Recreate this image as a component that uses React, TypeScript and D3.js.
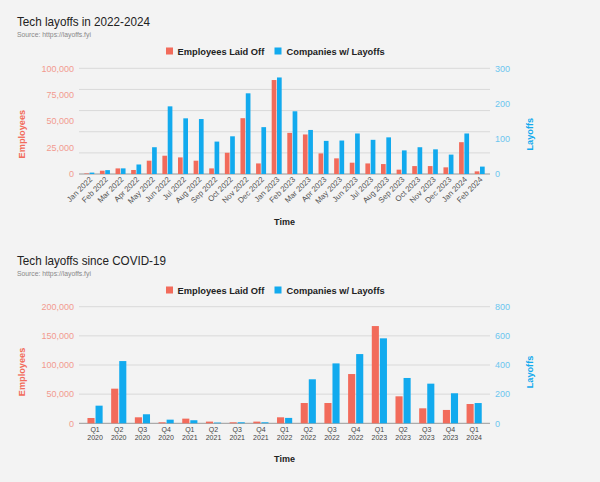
import React from "react";
import * as d3 from "d3";

const months = ["Jan 2022","Feb 2022","Mar 2022","Apr 2022","May 2022","Jun 2022","Jul 2022","Aug 2022","Sep 2022","Oct 2022","Nov 2022","Dec 2022","Jan 2023","Feb 2023","Mar 2023","Apr 2023","May 2023","Jun 2023","Jul 2023","Aug 2023","Sep 2023","Oct 2023","Nov 2023","Dec 2023","Jan 2024","Feb 2024"];
const monthEmployees = [500,3100,5300,3800,12600,17300,15700,12600,5300,20100,52800,10000,88900,38900,37400,19500,14800,10700,10000,9400,4100,7500,7500,6300,30100,2500];
const monthCompanies = [4,11,16,27,76,192,158,156,92,107,229,133,274,178,125,94,95,115,97,104,67,76,70,55,115,21];

const quarters = ["Q1 2020","Q2 2020","Q3 2020","Q4 2020","Q1 2021","Q2 2021","Q3 2021","Q4 2021","Q1 2022","Q2 2022","Q3 2022","Q4 2022","Q1 2023","Q2 2023","Q3 2023","Q4 2023","Q1 2024"];
const quarterEmployees = [9100,59400,10300,1700,8000,2900,1700,2900,10300,34800,34800,84500,166800,46300,25700,22900,33100];
const quarterCompanies = [121,427,62,25,21,5,7,7,37,302,411,475,583,311,272,206,139];

const topLeftTicks = [0,25000,50000,75000,100000];
const topRightTicks = [0,100,200,300];
const botLeftTicks = [0,50000,100000,150000,200000];
const botRightTicks = [0,200,400,600,800];

const RED = "#f26b5b";
const BLUE = "#12aaee";
const FONT = "Arial, 'Liberation Sans', sans-serif";
const fmt = d3.format(",");

type ChartProps = {
  oy: number;
  title: string;
  titleLen: number;
  cats: string[];
  emp: number[];
  comp: number[];
  leftTicks: number[];
  rightTicks: number[];
  plotTop: number;
  plotBottom: number;
  xr: [number, number];
  quarterly: boolean;
};

function Chart(p: ChartProps) {
  const { oy } = p;
  const yL = d3.scaleLinear().domain([0, p.leftTicks[p.leftTicks.length - 1]]).range([p.plotBottom, p.plotTop]);
  const yR = d3.scaleLinear().domain([0, p.rightTicks[p.rightTicks.length - 1]]).range([p.plotBottom, p.plotTop]);
  const x = d3.scaleBand().domain(p.cats).range(p.xr).paddingInner(0.36).paddingOuter(0.18);
  const sub = d3.scaleBand().domain(["e", "c"]).range([0, x.bandwidth()]).paddingInner(0.12);
  const gridTicks = yL.ticks(4);
  const midY = (p.plotTop + p.plotBottom) / 2 + (p.quarterly ? 7 : 13);
  return (
    <g transform={`translate(0,${oy})`}>
      <text x={17} y={26} fontSize={13} textLength={p.titleLen} lengthAdjust="spacingAndGlyphs" fill="#222" fontFamily={FONT}>{p.title}</text>
      <text x={17} y={37} fontSize={6.8} fill="#888" fontFamily={FONT}>Source: https://layoffs.fyi</text>
      <rect x={166} y={47.5} width={7} height={7} fill={RED} />
      <text x={177.5} y={54.5} fontSize={9.3} fontWeight="bold" fill="#222" fontFamily={FONT}>Employees Laid Off</text>
      <rect x={274.5} y={47.5} width={7} height={7} fill={BLUE} />
      <text x={286.5} y={54.5} fontSize={9.3} fontWeight="bold" fill="#222" fontFamily={FONT}>Companies w/ Layoffs</text>
      {gridTicks.map((t) => (
        <line key={t} x1={79} x2={490} y1={yL(t)} y2={yL(t)} stroke={t === 0 ? "#999" : "#d9d9d9"} strokeWidth={1} />
      ))}
      {p.leftTicks.map((t) => (
        <text key={"l" + t} x={74} y={yL(t) + 3.2} textAnchor="end" fontSize={9} fill="#f29a8f" fontFamily={FONT}>{fmt(t)}</text>
      ))}
      {p.rightTicks.map((t) => (
        <text key={"r" + t} x={495} y={yR(t) + 3.2} fontSize={9} fill="#6cc6ef" fontFamily={FONT}>{t}</text>
      ))}
      {p.cats.map((c, i) => (
        <g key={c} transform={`translate(${x(c)},0)`}>
          <rect x={sub("e")} width={sub.bandwidth()} y={yL(p.emp[i])} height={p.plotBottom - yL(p.emp[i])} fill={RED} />
          <rect x={sub("c")} width={sub.bandwidth()} y={yR(p.comp[i])} height={p.plotBottom - yR(p.comp[i])} fill={BLUE} />
        </g>
      ))}
      {p.cats.map((c) => {
        const cx = (x(c) as number) + x.bandwidth() / 2;
        if (p.quarterly) {
          const [q, yr] = c.split(" ");
          return (
            <g key={"t" + c}>
              <text x={cx} y={p.plotBottom + 9} textAnchor="middle" fontSize={7} fill="#444" fontFamily={FONT}>{q}</text>
              <text x={cx} y={p.plotBottom + 17} textAnchor="middle" fontSize={7} fill="#444" fontFamily={FONT}>{yr}</text>
            </g>
          );
        }
        return (
          <text key={"t" + c} transform={`translate(${cx + 3.5},${p.plotBottom + 6}) rotate(-45)`} textAnchor="end" fontSize={7.8} fill="#555" fontFamily={FONT}>{c}</text>
        );
      })}
      <text x={284.5} y={p.quarterly ? p.plotBottom + 39 : p.plotBottom + 51} textAnchor="middle" fontSize={9} fontWeight="bold" fill="#222" fontFamily={FONT}>Time</text>
      <text transform={`translate(25,${midY}) rotate(-90)`} textAnchor="middle" fontSize={9.2} fontWeight="bold" fill={RED} fontFamily={FONT}>Employees</text>
      <text transform={`translate(533,${midY}) rotate(-90)`} textAnchor="middle" fontSize={9.2} fontWeight="bold" fill={BLUE} fontFamily={FONT}>Layoffs</text>
    </g>
  );
}

export default function App() {
  return (
    <svg width={600} height={482} style={{ position: "absolute", left: 0, top: 0, background: "#f3f3f3" }}>
      <rect x={0} y={0} width={600} height={482} fill="#f3f3f3" />
      <Chart oy={0} title="Tech layoffs in 2022-2024" titleLen={133} cats={months} emp={monthEmployees} comp={monthCompanies}
        leftTicks={topLeftTicks} rightTicks={topRightTicks} plotTop={68.3} plotBottom={174} xr={[81.5, 487.5]} quarterly={false} />
      <Chart oy={239} title="Tech layoffs since COVID-19" titleLen={149} cats={quarters} emp={quarterEmployees} comp={quarterCompanies}
        leftTicks={botLeftTicks} rightTicks={botRightTicks} plotTop={306.7 - 239} plotBottom={423.3 - 239} xr={[83.2, 486]} quarterly={true} />
    </svg>
  );
}
